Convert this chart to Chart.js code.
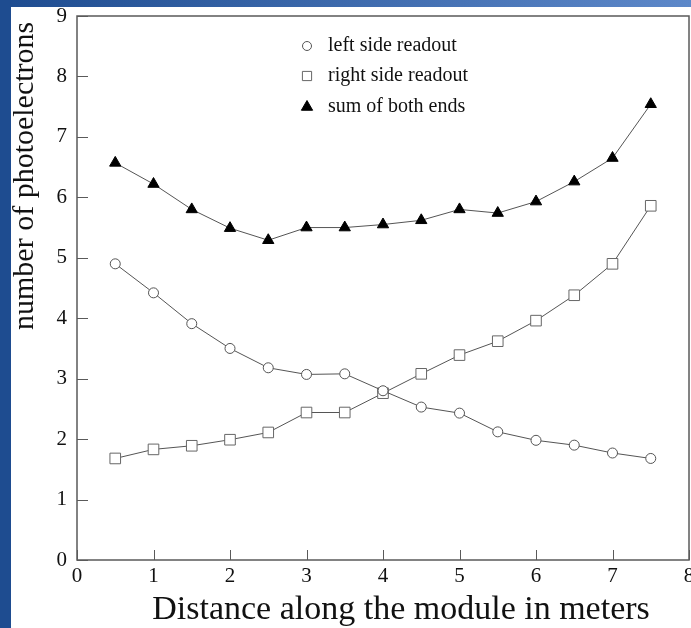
<!DOCTYPE html>
<html>
<head>
<meta charset="utf-8">
<script src="https://cdn.jsdelivr.net/npm/chart.js@4"></script>
<style>
  html, body { margin: 0; padding: 0; background: #fff; }
  canvas { display: block; }
</style>
</head>
<body>
<canvas id="pe_chart" width="691" height="628"></canvas>
<script>
// distance along the module (m)
const distance = [0.5, 1, 1.5, 2, 2.5, 3, 3.5, 4, 4.5, 5, 5.5, 6, 6.5, 7, 7.5];
const leftReadout = [4.9, 4.42, 3.91, 3.5, 3.18, 3.07, 3.08, 2.8, 2.53, 2.43, 2.12, 1.98, 1.9, 1.77, 1.68];
const rightReadout = [1.68, 1.83, 1.89, 1.99, 2.11, 2.44, 2.44, 2.76, 3.08, 3.39, 3.62, 3.96, 4.38, 4.9, 5.86];
const sumBothEnds = [6.57, 6.22, 5.8, 5.49, 5.29, 5.5, 5.5, 5.55, 5.62, 5.8, 5.74, 5.93, 6.26, 6.65, 7.54];
const xTicks = [0, 1, 2, 3, 4, 5, 6, 7, 8];
const yTicks = [0, 1, 2, 3, 4, 5, 6, 7, 8, 9];
const legendLabels = ['left side readout', 'right side readout', 'sum of both ends'];

const serif = '"Liberation Serif", "Times New Roman", serif';
const frameColor = '#5a5a5a';

function toPoints(values) {
    return distance.map((d, i) => ({ x: d, y: values[i] }));
}

const seriesStyles = [
    { pointStyle: 'circle', radius: 5, bg: '#ffffff', border: '#555555' },
    { pointStyle: 'rect', radius: 7.5, bg: '#ffffff', border: '#666666' },
    { pointStyle: 'triangle', radius: 6.5, bg: '#000000', border: '#000000' }
];

const datasets = [leftReadout, rightReadout, sumBothEnds].map((values, i) => ({
    label: legendLabels[i],
    data: toPoints(values),
    showLine: true,
    borderColor: '#555555',
    borderWidth: 1,
    pointStyle: seriesStyles[i].pointStyle,
    pointRadius: seriesStyles[i].radius,
    pointBackgroundColor: seriesStyles[i].bg,
    pointBorderColor: seriesStyles[i].border,
    pointBorderWidth: 1,
    clip: false
}));

// frame, inner ticks, labels, legend and the blue page border
const decorations = {
    id: 'decorations',
    beforeDraw(chart) {
        const ctx = chart.ctx;
        ctx.save();
        ctx.fillStyle = '#ffffff';
        ctx.fillRect(0, 0, chart.width, chart.height);
        ctx.restore();
    },
    beforeDatasetsDraw(chart) {
        const { ctx, chartArea: a, scales: { x, y } } = chart;
        ctx.save();
        ctx.strokeStyle = frameColor;
        ctx.lineWidth = 1.5;
        ctx.strokeRect(a.left, a.top, a.right - a.left, a.bottom - a.top);

        ctx.lineWidth = 1;
        ctx.beginPath();
        yTicks.forEach(v => {
            const py = Math.round(y.getPixelForValue(v)) + 0.5;
            ctx.moveTo(a.left, py);
            ctx.lineTo(a.left + 11, py);
        });
        xTicks.forEach(v => {
            const px = Math.round(x.getPixelForValue(v)) + 0.5;
            ctx.moveTo(px, a.bottom);
            ctx.lineTo(px, a.bottom - 10);
        });
        ctx.stroke();

        ctx.fillStyle = '#111111';
        ctx.font = '21px ' + serif;
        ctx.textAlign = 'right';
        ctx.textBaseline = 'middle';
        yTicks.forEach(v => ctx.fillText(String(v), 67, y.getPixelForValue(v)));
        ctx.textAlign = 'center';
        ctx.textBaseline = 'top';
        xTicks.forEach(v => ctx.fillText(String(v), x.getPixelForValue(v), 566));

        // axis titles
        ctx.font = '34px ' + serif;
        ctx.textAlign = 'center';
        ctx.textBaseline = 'alphabetic';
        ctx.fillText('Distance along the module in meters', 401, 619);

        ctx.save();
        ctx.translate(33, 330);
        ctx.rotate(-Math.PI / 2);
        ctx.font = '30px ' + serif;
        ctx.textAlign = 'left';
        ctx.fillText('number of photoelectrons', 0, 0);
        ctx.restore();

        // legend
        const rows = [46, 76, 107];
        ctx.font = '20px ' + serif;
        ctx.textAlign = 'left';
        ctx.textBaseline = 'middle';
        rows.forEach((ry, i) => {
            const s = seriesStyles[i];
            ctx.fillStyle = s.bg;
            ctx.strokeStyle = s.border;
            ctx.lineWidth = 1;
            Chart.helpers.drawPoint(ctx, {
                pointStyle: s.pointStyle,
                radius: s.pointStyle === 'circle' ? 4.5 : (s.pointStyle === 'rect' ? 6.5 : 6.5),
                borderWidth: 1,
                rotation: 0
            }, 307, ry);
            ctx.fillStyle = '#111111';
            ctx.fillText(legendLabels[i], 328, ry);
        });
        ctx.restore();
    },
    afterDraw(chart) {
        const ctx = chart.ctx;
        ctx.save();
        const grad = ctx.createLinearGradient(0, 0, chart.width, 0);
        grad.addColorStop(0, '#1e4c90');
        grad.addColorStop(1, '#5d88c9');
        ctx.fillStyle = grad;
        ctx.fillRect(0, 0, chart.width, 7);
        ctx.fillStyle = '#1e4c90';
        ctx.fillRect(0, 0, 11, chart.height);
        ctx.restore();
    }
};

new Chart(document.getElementById('pe_chart'), {
    type: 'scatter',
    data: { datasets },
    options: {
        responsive: false,
        animation: false,
        layout: { autoPadding: false, padding: { left: 0, top: 16, right: 2, bottom: 0 } },
        plugins: {
            legend: { display: false },
            tooltip: { enabled: false }
        },
        scales: {
            x: {
                type: 'linear',
                min: 0,
                max: 8,
                ticks: { display: false, stepSize: 1 },
                grid: { display: false },
                border: { display: false },
                afterFit(scale) { scale.height = 68; }
            },
            y: {
                type: 'linear',
                min: 0,
                max: 9,
                ticks: { display: false, stepSize: 1 },
                grid: { display: false },
                border: { display: false },
                afterFit(scale) { scale.width = 77; }
            }
        }
    },
    plugins: [decorations]
});
</script>
</body>
</html>
